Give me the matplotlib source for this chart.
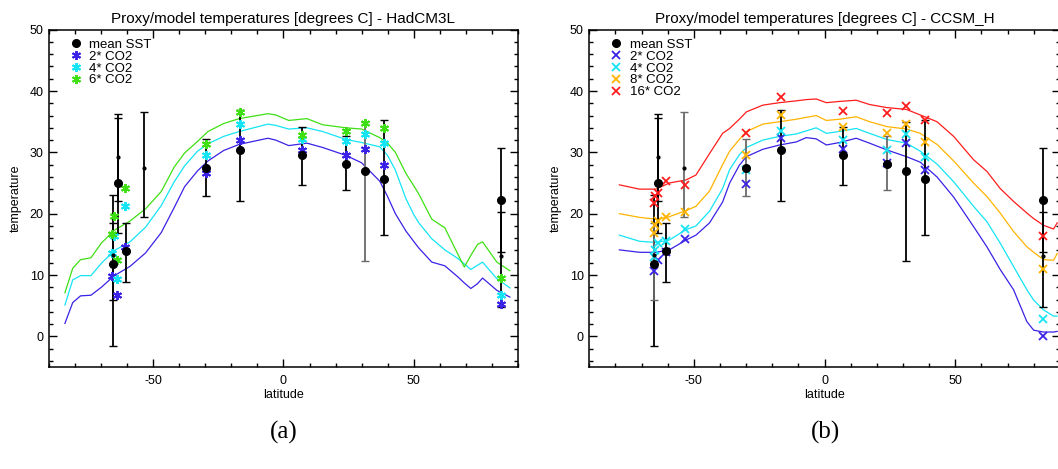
"""Proxy vs model SST by latitude: HadCM3L (a) and CCSM_H (b)."""
import numpy as np
import matplotlib

matplotlib.use("Agg")
import matplotlib.pyplot as plt
from matplotlib.ticker import MultipleLocator

plt.rcParams["font.family"] = ["Liberation Sans", "DejaVu Sans"]
plt.rcParams["axes.unicode_minus"] = False

nan = np.nan

# --- proxy data (shared by both panels) ---------------------------------
proxy_lat = [-65.4, -65.4, -63.7, -63.7, -60.7, -53.7, -29.9, -16.7, 7.2, 24.0, 31.2, 38.5, 83.4, 83.4]
proxy_val = [11.8, 13.3, 25.0, 29.2, 13.9, 27.4, 27.4, 30.4, 29.5, 28.1, 27.0, 25.6, 22.3, 13.1]
proxy_lo = [-1.6, 6.0, 16.9, 22.0, 8.8, 19.5, 22.9, 22.1, 24.7, 23.9, 12.3, 16.5, 13.8, 4.8]
proxy_hi = [23.1, 18.5, 35.6, 36.3, 18.5, 36.5, 32.1, 36.9, 34.2, 32.6, 34.9, 35.2, 30.7, 20.3]
proxy_big = [1, 0, 1, 0, 1, 0, 1, 1, 1, 1, 1, 1, 1, 0]

# --- HadCM3L zonal-mean model curves -------------------------------------
had_lat = [-84, -81, -78, -74, -70, -65, -59, -53, -47, -42, -38, -33, -29, -23, -17, -6, -3,
           2, 9, 15, 24, 30, 37, 40, 43, 47, 50, 52, 57, 62, 67, 69.5, 72, 74.6, 76.5, 82, 87]
had_2x = [2.1, 5.5, 6.6, 6.7, 8.0, 9.9, 11.4, 13.6, 16.9, 21.0, 24.4, 27.0, 28.6, 30.3, 31.3, 32.3, 32.0,
          31.1, 31.5, 30.8, 29.5, 28.3, 25.3, 22.8, 20.0, 17.2, 15.5, 14.4, 12.1, 11.5, 9.7, 8.7, 7.8, 8.6, 9.5, 7.5, 6.4]
had_4x = [5.1, 9.2, 9.9, 9.9, 11.9, 14.0, 15.4, 17.8, 21.3, 25.2, 27.8, 30.2, 31.4, 32.6, 33.4, 34.6, 34.4,
          33.8, 34.0, 33.4, 32.1, 31.6, 30.9, 29.5, 27.1, 22.5, 19.9, 18.5, 15.9, 14.1, 12.7, 11.8, 10.9, 11.6, 12.1, 9.4, 7.9]
had_6x = [7.1, 11.1, 12.5, 12.8, 15.2, 17.3, 18.8, 20.8, 23.6, 27.6, 29.9, 31.8, 33.4, 34.7, 35.5, 36.3, 36.1,
          35.2, 35.5, 34.5, 34.0, 33.8, 32.4, 31.5, 30.0, 26.6, 24.6, 23.2, 19.1, 17.7, 13.4, 11.3, 13.2, 15.0, 15.4, 12.1, 10.7]

# HadCM3L values at the proxy sites
had_site_lat = [-65.8, -65.1, -63.8, -60.8, -29.9, -16.7, 7.2, 24.0, 31.2, 38.5, 83.4]
had_site_2x = [9.8, nan, 6.8, 14.6, 26.6, 32.0, 30.4, 29.5, 30.6, 27.9, 5.2]
had_site_4x = [13.6, 16.4, 9.3, 21.3, 29.6, 34.7, 32.2, 31.9, 33.0, 31.5, 6.8]
had_site_6x = [16.7, 19.6, 12.4, 24.2, 31.3, 36.5, 32.8, 33.4, 34.8, 33.9, 9.5]

# --- CCSM_H zonal-mean model curves --------------------------------------
ccsm_lat = [-78.5, -70.8, -64.5, -59.4, -53, -49.2, -44, -39, -36.3, -32.6, -29.9, -23.6, -17.2, -10.8,
            -7, -3.2, 0.7, 5.7, 12.1, 17.2, 23.8, 31.3, 36.6, 43, 49.4, 57, 62.1, 67.2, 72.3, 77.4,
            80, 83.8, 87.6, 89]
ccsm_2x = [14.1, 13.7, 13.7, 14.1, 15.7, 16.5, 18.5, 21.9, 25.0, 27.9, 29.3, 30.5, 31.2, 31.7,
           32.4, 32.2, 31.2, 31.6, 32.3, 31.5, 30.4, 29.3, 28.4, 26.0, 22.7, 17.9, 14.6, 10.9, 7.6, 2.4,
           1.0, 0.7, 0.7, 0.8]
ccsm_4x = [16.5, 15.5, 15.3, 15.7, 17.4, 18.0, 20.4, 24.1, 27.2, 29.6, 30.8, 32.0, 32.6, 33.0,
           33.5, 34.0, 33.1, 33.4, 33.9, 33.1, 32.1, 31.5, 30.2, 28.1, 25.2, 21.2, 18.7, 15.2, 11.4, 7.6,
           5.9, 4.3, 3.3, 3.3]
ccsm_8x = [20.0, 19.4, 19.1, 19.5, 20.5, 21.2, 23.7, 28.0, 30.2, 32.1, 33.4, 34.6, 35.0, 35.4,
           35.7, 36.0, 35.2, 35.4, 35.8, 35.0, 34.2, 33.8, 33.1, 31.3, 28.6, 25.0, 22.8, 20.1, 17.1, 14.6,
           13.7, 12.5, 12.4, 13.5]
ccsm_16x = [24.7, 24.0, 24.0, 25.0, 25.5, 26.3, 29.8, 33.1, 33.9, 35.4, 36.6, 37.7, 38.1, 38.4,
            38.6, 38.7, 38.1, 38.3, 38.5, 37.8, 37.3, 37.0, 36.1, 35.0, 32.6, 28.8, 26.9, 24.1, 22.0, 20.1,
            19.2, 18.1, 17.5, 18.5]

# CCSM_H values at the proxy sites
ccsm_site_lat = [-65.4, -64.8, -63.6, -60.6, -53.5, -29.9, -16.7, 7.2, 24.0, 31.2, 38.5, 83.4]
ccsm_site_2x = [10.7, nan, 12.5, 13.8, 15.9, 24.8, 32.3, 30.5, 28.3, 31.5, 27.1, 0.1]
ccsm_site_4x = [13.0, 14.0, 15.2, 15.5, 17.5, 27.1, 33.5, 32.0, 30.4, 33.0, 29.3, 2.9]
ccsm_site_8x = [16.8, 18.1, 18.8, 19.5, 20.3, 29.6, 36.1, 34.2, 33.1, 34.7, 31.7, 10.9]
ccsm_site_16x = [21.8, 22.9, 23.4, 25.3, 24.7, 33.1, 39.1, 36.8, 36.4, 37.6, 35.3, 16.3]

BLUE, CYAN, GREEN, ORANGE, RED = "#3a22e6", "#14e4f4", "#3ee014", "#ffb400", "#ff1c1c"
ASTER = (6, 2, 0)


def draw_proxies(ax, grey):
    for i, (x, v, lo, hi) in enumerate(zip(proxy_lat, proxy_val, proxy_lo, proxy_hi)):
        col = "#6a6a6a" if i in grey else "black"
        ax.errorbar([x], [v], yerr=[[v - lo], [hi - v]], fmt="none", ecolor=col,
                    elinewidth=1.3, capsize=2.8, capthick=1.0, zorder=3)
    big = np.array(proxy_big, bool)
    lat, val = np.array(proxy_lat), np.array(proxy_val)
    h, = ax.plot(lat[big], val[big], "o", color="black", ms=5.5, zorder=5, label="mean SST")
    ax.plot(lat[~big], val[~big], "o", color="black", ms=2, zorder=5)
    return h


def style_axes(ax, title):
    ax.set_xlim(-90, 90)
    ax.set_ylim(-5, 50)
    ax.xaxis.set_major_locator(MultipleLocator(50))
    ax.xaxis.set_minor_locator(MultipleLocator(10))
    ax.yaxis.set_major_locator(MultipleLocator(10))
    ax.yaxis.set_minor_locator(MultipleLocator(2))
    ax.tick_params(which="both", direction="in", top=True, right=True, width=1.0, labelsize=9)
    ax.tick_params(which="major", length=5.5, pad=4)
    ax.tick_params(which="minor", length=3)
    ax.tick_params(axis="x", pad=6)
    for s in ax.spines.values():
        s.set_linewidth(1.1)
    ax.set_title(title, fontsize=11, pad=5)
    ax.set_xlabel("latitude", fontsize=9, labelpad=1)
    ax.set_ylabel("temperature", fontsize=9, labelpad=6)


def add_legend(ax, handles):
    ax.legend(handles=handles, loc="upper left", frameon=False, fontsize=9.5,
              handlelength=0.8, handletextpad=0.6, labelspacing=-0.02, borderaxespad=0.0,
              bbox_to_anchor=(0.035, 0.99))


fig = plt.figure(figsize=(10.58, 4.69), dpi=100)
ax1 = fig.add_axes([0.0466, 0.2175, 0.4427, 0.7192])
ax2 = fig.add_axes([0.557, 0.2175, 0.4447, 0.7192])

# (a) HadCM3L
ax1.plot(had_lat, had_2x, color=BLUE, lw=0.9)
ax1.plot(had_lat, had_4x, color=CYAN, lw=0.9)
ax1.plot(had_lat, had_6x, color=GREEN, lw=0.9)
hm = draw_proxies(ax1, grey={10})
mk = dict(ls="none", marker=ASTER, ms=6.5, mew=1.4, zorder=4)
h2, = ax1.plot(had_site_lat, had_site_2x, color=BLUE, label="2* CO2", **mk)
h4, = ax1.plot(had_site_lat, had_site_4x, color=CYAN, label="4* CO2", **mk)
h6, = ax1.plot(had_site_lat, had_site_6x, color=GREEN, label="6* CO2", **mk)
style_axes(ax1, "Proxy/model temperatures [degrees C] - HadCM3L")
add_legend(ax1, [hm, h2, h4, h6])

# (b) CCSM_H
ax2.plot(ccsm_lat, ccsm_2x, color=BLUE, lw=0.9)
ax2.plot(ccsm_lat, ccsm_4x, color=CYAN, lw=0.9)
ax2.plot(ccsm_lat, ccsm_8x, color=ORANGE, lw=0.9)
ax2.plot(ccsm_lat, ccsm_16x, color=RED, lw=0.9)
hm = draw_proxies(ax2, grey={1, 5, 6, 9})
mx = dict(ls="none", marker="x", ms=6, mew=1.3, zorder=4)
g2, = ax2.plot(ccsm_site_lat, ccsm_site_2x, color=BLUE, label="2* CO2", **mx)
g4, = ax2.plot(ccsm_site_lat, ccsm_site_4x, color=CYAN, label="4* CO2", **mx)
g8, = ax2.plot(ccsm_site_lat, ccsm_site_8x, color=ORANGE, label="8* CO2", **mx)
g16, = ax2.plot(ccsm_site_lat, ccsm_site_16x, color=RED, label="16* CO2", **mx)
style_axes(ax2, "Proxy/model temperatures [degrees C] - CCSM_H")
add_legend(ax2, [hm, g2, g4, g8, g16])

fig.text(0.2678, 0.077, "(a)", family="Liberation Serif", fontsize=18, ha="center", va="center")
fig.text(0.7798, 0.077, "(b)", family="Liberation Serif", fontsize=18, ha="center", va="center")

fig.savefig("out.png", dpi=100)
